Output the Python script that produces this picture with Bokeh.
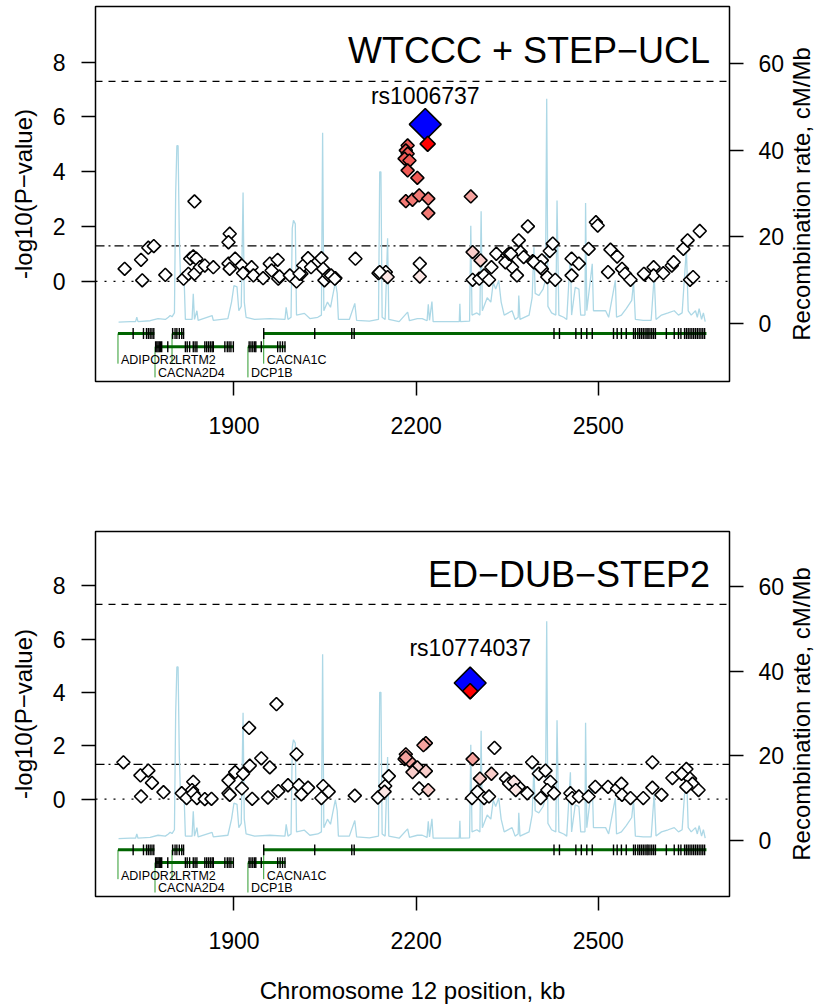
import math
from bokeh.plotting import figure
from bokeh.models import Range1d, LinearAxis, FixedTicker, Span
from bokeh.layouts import column, row
from bokeh.embed import file_html
from bokeh.resources import INLINE
from bokeh.core.properties import value

FONT = "Liberation Sans"

# ---------------- axes / reference lines ----------------
x_ticks = [1900, 2200, 2500]
p_ticks = [0, 2, 4, 6, 8]
rec_ticks = [0, 20, 40, 60]
thresholds = [7.3, 1.3, 0.0]
threshold_dash = ["7 6", "9 4 2 4", "2 7"]
y_label = "-log10(P\u2212value)"
rec_label = "Recombination rate, cM/Mb"
rec_label_y = 3.19   # vertical centre of the right-hand title, in -log10(P) units
x_label = "Chromosome 12 position, kb"

# ---------------- recombination rate (cM/Mb) ----------------
rec_kb = [1710, 1729, 1738, 1740, 1742, 1762, 1775, 1787, 1792, 1795,
          1798, 1802, 1804, 1806, 1808, 1810, 1812, 1818, 1820, 1831,
          1833, 1835, 1839, 1841, 1864, 1866, 1890, 1896, 1900, 1905,
          1908, 1912, 1915, 1917, 1920, 1934, 1959, 1984, 1986, 1989,
          1994, 1996, 1998, 2001, 2003, 2016, 2025, 2038, 2044, 2046,
          2048, 2054, 2059, 2062, 2067, 2070, 2072, 2090, 2099, 2102,
          2123, 2138, 2140, 2142, 2144, 2149, 2153, 2155, 2172, 2186,
          2189, 2202, 2210, 2218, 2220, 2222, 2226, 2228, 2246, 2271,
          2272, 2273, 2288, 2290, 2292, 2300, 2305, 2307, 2309, 2317,
          2323, 2327, 2331, 2336, 2340, 2345, 2358, 2363, 2368, 2369,
          2371, 2386, 2391, 2394, 2396, 2402, 2409, 2413, 2415, 2417,
          2423, 2430, 2432, 2435, 2443, 2448, 2454, 2456, 2462, 2468,
          2471, 2478, 2479, 2481, 2490, 2492, 2501, 2512, 2517, 2528,
          2530, 2538, 2546, 2555, 2558, 2561, 2574, 2587, 2592, 2595,
          2604, 2615, 2625, 2632, 2638, 2645, 2648, 2653, 2660, 2663,
          2666, 2670, 2673, 2676]
rec_rate = [0.4, 0.5, 0.5, 1.5, 0.5, 0.7, 1.2, 1.0, 1.5, 1.9,
            1.6, 2.5, 30, 41, 41, 20, 10.5, 10, 1.0, 1.0,
            6.9, 1.0, 3.0, 0.8, 1.9, 0.8, 1.2, 5, 8.8, 8.5,
            3, 4, 30.2, 5, 1.5, 1.0, 1.2, 1.0, 3.8, 1.0,
            1.5, 22, 23.8, 23, 2.0, 2.4, 1.2, 1.5, 2, 44,
            3, 5, 3.8, 6, 9.6, 7, 1.0, 1.0, 4.7, 0.8,
            0.6, 1.0, 35, 35, 1.5, 1, 19.7, 1, 0.5, 2.7,
            0.7, 1.2, 1.2, 0.7, 4.5, 0.8, 5.1, 0.5, 0.5, 0.5,
            4.6, 0.5, 0.6, 22.6, 2, 2.5, 2, 25.9, 3, 6,
            5, 9.5, 8, 10, 5, 2, 3, 1, 1.5, 6.5,
            1, 2, 6, 17.6, 7, 6.5, 8, 10, 51.8, 4,
            2.5, 2, 28.4, 2, 1.5, 1, 16.1, 2, 8.4, 8,
            2, 2, 27.8, 3, 13.8, 3, 3, 3, 1.5, 10,
            1.5, 2, 3.5, 5.4, 9.6, 1, 0.8, 0.8, 11, 1,
            2, 2.5, 3, 2, 2.5, 17.3, 3, 2, 3, 1.5,
            3.5, 1, 2.5, 0.5]

# ---------------- genes ----------------
gene_names = ["ADIPOR2", "LRTM2", "CACNA1C", "CACNA2D4", "DCP1B"]
gene_start = [1709, 1798, 1949, 1770, 1923]
gene_end = [1769, 1818, 2678, 1900, 1985]
gene_row = [1, 1, 1, 2, 2]
exon_row1 = [1734, 1751, 1756, 1759, 1762, 1765, 1768, 1799, 1803, 1806, 1810, 1814,
             1817, 1949, 2033, 2094, 2098, 2427, 2436, 2463, 2472, 2481, 2490, 2525,
             2531, 2538, 2546, 2558, 2561, 2565, 2568, 2571, 2574, 2577, 2580, 2582,
             2585, 2588, 2591, 2594, 2612, 2625, 2632, 2636, 2642, 2645, 2648, 2651,
             2654, 2657, 2660, 2663, 2666, 2669, 2672, 2675]
exon_row2 = [1771, 1773, 1775, 1777, 1779, 1781, 1791, 1820, 1823, 1827, 1833, 1836,
             1839, 1852, 1855, 1858, 1861, 1864, 1866, 1885, 1889, 1892, 1895, 1899,
             1925, 1928, 1931, 1934, 1936, 1945, 1972, 1976, 1980, 1984]
track_y = {1: -1.9, 2: -2.38}
name_y = {1: -2.88, 2: -3.34}
stem_y = {1: -3.0, 2: -3.5}

# ---------------- panel 1: WTCCC + STEP-UCL ----------------
p1_title = "WTCCC + STEP\u2212UCL"
p1_white_kb = [1720, 1747, 1749, 1759, 1768, 1787, 1835, 1828, 1833, 1838,
               1817, 1825, 1835, 1844, 1852, 1866, 1893, 1891, 1891, 1902,
               1893, 1913, 1915, 1929, 1932, 1948, 1959, 1962, 1972, 1973,
               1975, 1992, 2003, 2011, 2014, 2022, 2027, 2044, 2047, 2049,
               2056, 2067, 2100, 2138, 2150, 2206, 2293, 2304, 2312, 2324,
               2320, 2332, 2350, 2358, 2366, 2369, 2372, 2377, 2384, 2392,
               2407, 2407, 2416, 2420, 2425, 2429, 2456, 2468, 2456, 2484,
               2496, 2499, 2520, 2531, 2516, 2539, 2544, 2553, 2576, 2591,
               2591, 2607, 2621, 2640, 2647, 2667, 2651, 2656, 2008, 2060,
               2066, 2140, 2347, 2353, 2394, 2405, 2356, 2624, 2575]
p1_white_p = [0.46, 0.79, 0.04, 1.23, 1.29, 0.24, 2.92, 0.83, 0.91, 0.83,
              0.10, 0.28, 0.28, 0.52, 0.58, 0.52, 1.74, 1.43, 0.65, 0.83,
              0.46, 0.58, 0.30, 0.52, 0.22, 0.12, 0.65, 0.40, 0.79, 0.10,
              0.18, 0.22, 0.00, 0.28, 0.58, 0.85, 0.52, 0.85, 0.46, 0.04,
              0.22, 0.12, 0.83, 0.30, 0.34, 0.65, 0.06, 0.10, 0.22, 0.52,
              0.06, 1.01, 0.95, 0.52, 0.22, 1.50, 1.07, 0.89, 2.01, 0.74,
              0.77, 0.46, 0.16, 1.11, 1.38, 0.06, 0.83, 0.65, 0.22, 1.19,
              2.16, 2.04, 1.16, 0.91, 0.34, 0.46, 0.28, 0.06, 0.26, 0.52,
              0.22, 0.30, 0.58, 1.19, 1.50, 1.84, 0.06, 0.16, 0.28, 0.22,
              0.10, 0.34, 0.70, 1.01, 0.70, 0.52, 1.01, 0.70, 0.28]
p1_ld1_kb = [2153, 2206]
p1_ld1_p = [0.16, 0.18]
p1_ld2_kb = [2293, 2306]
p1_ld2_p = [1.07, 0.77]
p1_ld3_kb = [2290]
p1_ld3_p = [3.10]
p1_ld4_kb = [2183, 2194, 2205, 2220, 2220]
p1_ld4_p = [2.93, 2.98, 3.14, 3.02, 2.49]
p1_ld5_kb = [2186, 2183, 2186, 2181, 2189, 2186, 2202]
p1_ld5_p = [4.96, 4.78, 4.66, 4.48, 4.41, 4.05, 3.78]
p1_snp = "rs1006737"
p1_meta_kb, p1_meta_p = 2215, 5.73
p1_snp_kb, p1_snp_p = 2219, 5.02
p1_label_p = 6.75

# ---------------- panel 2: ED-DUB-STEP2 ----------------
p2_title = "ED\u2212DUB\u2212STEP2"
p2_white_kb = [1718, 1746, 1759, 1765, 1747, 1784, 1814, 1822, 1833, 1831,
               1833, 1839, 1852, 1863, 1891, 1902, 1915, 1926, 1925, 1945,
               1959, 1970, 1891, 1893, 1913, 1930, 1956, 1973, 1989, 2003,
               2007, 2011, 2022, 2047, 2044, 2056, 2099, 2137, 2149, 2155,
               2205, 2329, 2292, 2301, 2312, 2320, 2348, 2353, 2369, 2383,
               2391, 2402, 2413, 2421, 2416, 2405, 2427, 2454, 2457, 2468,
               2484, 2495, 2516, 2531, 2538, 2539, 2553, 2574, 2589, 2589,
               2604, 2622, 2645, 2651, 2655, 2645, 2665, 2637]
p2_white_p = [1.38, 0.89, 1.07, 0.61, 0.10, 0.26, 0.22, 0.04, 0.65, 0.34,
              0.22, 0.04, 0.00, 0.01, 0.70, 1.01, 0.95, 1.25, 2.67, 1.53,
              1.19, 3.56, 0.22, 0.16, 0.40, 0.01, 0.06, 0.30, 0.52, 1.68,
              0.52, 0.18, 0.43, 0.49, 0.04, 0.28, 0.13, 0.06, 0.49, 0.86,
              0.40, 1.92, 0.04, 0.28, 0.04, 0.10, 0.77, 0.58, 0.46, 0.22,
              1.38, 0.95, 1.07, 0.65, 0.34, 0.04, 0.22, 0.22, 0.04, 0.10,
              0.10, 0.46, 0.46, 0.40, 0.58, 0.16, 0.04, 0.04, 1.38, 0.43,
              0.16, 0.79, 1.13, 0.77, 0.58, 0.46, 0.34, 0.95]
p2_ld1_kb = [2148, 2361, 2364]
p2_ld1_p = [0.28, 0.65, 0.34]
p2_ld2_kb = [2220, 2305, 2324, 2202, 2216, 2194]
p2_ld2_p = [0.34, 0.77, 0.95, 1.19, 1.05, 1.01]
p2_ld3_kb = [2216, 2212, 2183, 2181, 2189, 2183, 2293]
p2_ld3_p = [2.10, 2.02, 1.68, 1.50, 1.43, 1.56, 1.50]
p2_snp = "rs10774037"
p2_meta_kb, p2_meta_p = 2289, 4.35
p2_snp_kb, p2_snp_p = 2289, 4.05
p2_label_p = 5.65

C_WHITE = "white"
C_LD1 = "#FDE6E4"
C_LD2 = "#F9CDCA"
C_LD3 = "#F5A29E"
C_LD4 = "#F27A75"
C_LD5 = "#F05A55"

Y_LO, Y_HI = -3.65, 10.03
REC_LO, REC_HI = -13.29, 73.06


def style_axis(ax, standoff):
    ax.axis_line_color = None
    ax.major_tick_line_color = "black"
    ax.major_tick_line_width = 1.5
    ax.major_tick_out = 14
    ax.major_tick_in = 0
    ax.minor_tick_line_color = None
    ax.major_label_text_font = FONT
    ax.major_label_text_font_size = "23px"
    ax.major_label_text_color = "black"
    ax.major_label_standoff = standoff
    ax.axis_label_text_font = FONT
    ax.axis_label_text_font_size = "24px"
    ax.axis_label_text_font_style = "normal"
    ax.axis_label_text_color = "black"


def panel(height, border_bottom, xlabel, title, groups, meta, snp, label, label_p):
    p = figure(width=787, height=height,
               x_range=Range1d(1672, 2716), y_range=Range1d(Y_LO, Y_HI),
               output_backend="svg", toolbar_location=None,
               min_border_left=95, min_border_right=56, min_border_top=6,
               min_border_bottom=border_bottom)
    p.extra_y_ranges = {"rec": Range1d(REC_LO, REC_HI)}
    p.grid.visible = False
    p.outline_line_color = "black"
    p.outline_line_width = 1.5
    p.background_fill_color = "white"
    p.border_fill_color = "white"

    xa = p.xaxis[0]
    xa.ticker = FixedTicker(ticks=x_ticks)
    style_axis(xa, 21)
    if xlabel:
        xa.axis_label = xlabel
        xa.axis_label_standoff = 25

    ya = p.yaxis[0]
    ya.ticker = FixedTicker(ticks=p_ticks)
    style_axis(ya, 16)
    ya.axis_label = y_label
    ya.axis_label_standoff = 13

    ra = LinearAxis(y_range_name="rec", ticker=FixedTicker(ticks=rec_ticks))
    style_axis(ra, 15)
    p.add_layout(ra, "right")

    for loc, dash in zip(thresholds, threshold_dash):
        p.add_layout(Span(location=loc, dimension="width", line_color="black",
                          line_width=1.3, line_dash=dash, level="underlay"))

    p.line(rec_kb, rec_rate, y_range_name="rec", line_color="#ADD8E6", line_width=1.3)

    # gene track
    ty = [track_y[r] for r in gene_row]
    p.segment(x0=gene_start, y0=ty, x1=gene_start, y1=[stem_y[r] for r in gene_row],
              line_color="#2E9B2E", line_width=1)
    p.segment(x0=gene_start, y0=ty, x1=gene_end, y1=ty, line_color="#006400", line_width=3)
    for ex, rw in ((exon_row1, 1), (exon_row2, 2)):
        p.segment(x0=ex, y0=[track_y[rw] - 0.2] * len(ex), x1=ex,
                  y1=[track_y[rw] + 0.2] * len(ex), line_color="black", line_width=1.4)
    p.text(x=gene_start, y=[name_y[r] for r in gene_row], text=gene_names,
           x_offset=3, text_font=value(FONT), text_font_size="12.5px",
           text_align="left", text_baseline="middle", text_color="black")

    # SNPs
    for kb, pv, col in groups:
        p.scatter(kb, pv, marker="square", angle=math.pi / 4, size=9.3,
                  fill_color=col, line_color="black", line_width=1.6)
    p.scatter([meta[0]], [meta[1]], marker="square", angle=math.pi / 4, size=22.5,
              fill_color="#0000FF", line_color="black", line_width=1.6)
    p.scatter([snp[0]], [snp[1]], marker="square", angle=math.pi / 4, size=10.7,
              fill_color="#FF0000", line_color="black", line_width=1.6)
    p.text(x=[meta[0]], y=[label_p], text=[label], text_font=value(FONT),
           text_font_size="23px", text_align="center", text_baseline="middle",
           text_color="black")

    p.text(x=[2684], y=[8.42], text=[title], text_font=value(FONT),
           text_font_size="36px", text_align="right", text_baseline="middle",
           text_color="black")

    # narrow strip to the right carrying the right-hand axis title (reads bottom-to-top)
    s = figure(width=28, height=height, x_range=Range1d(0, 1), y_range=Range1d(Y_LO, Y_HI),
               output_backend="svg", toolbar_location=None,
               min_border_left=0, min_border_right=0, min_border_top=6,
               min_border_bottom=border_bottom)
    s.axis.visible = False
    s.grid.visible = False
    s.outline_line_color = None
    s.border_fill_color = "white"
    s.background_fill_color = "white"
    s.text(x=[0.5], y=[rec_label_y], text=[rec_label], angle=math.pi / 2,
           text_font=value(FONT), text_font_size="24px", text_align="center",
           text_baseline="middle", text_color="black")
    return row(p, s, spacing=0)


p1 = panel(525, 144, None, p1_title,
           [(p1_white_kb, p1_white_p, C_WHITE), (p1_ld1_kb, p1_ld1_p, C_LD1),
            (p1_ld2_kb, p1_ld2_p, C_LD2), (p1_ld3_kb, p1_ld3_p, C_LD3),
            (p1_ld4_kb, p1_ld4_p, C_LD4), (p1_ld5_kb, p1_ld5_p, C_LD5)],
           (p1_meta_kb, p1_meta_p), (p1_snp_kb, p1_snp_p), p1_snp, p1_label_p)
p2 = panel(481, 100, x_label, p2_title,
           [(p2_white_kb, p2_white_p, C_WHITE), (p2_ld1_kb, p2_ld1_p, C_LD1),
            (p2_ld2_kb, p2_ld2_p, C_LD2), (p2_ld3_kb, p2_ld3_p, C_LD3)],
           (p2_meta_kb, p2_meta_p), (p2_snp_kb, p2_snp_p), p2_snp, p2_label_p)

layout = column(p1, p2, spacing=0)
open("out.html", "w").write(file_html(layout, INLINE))
